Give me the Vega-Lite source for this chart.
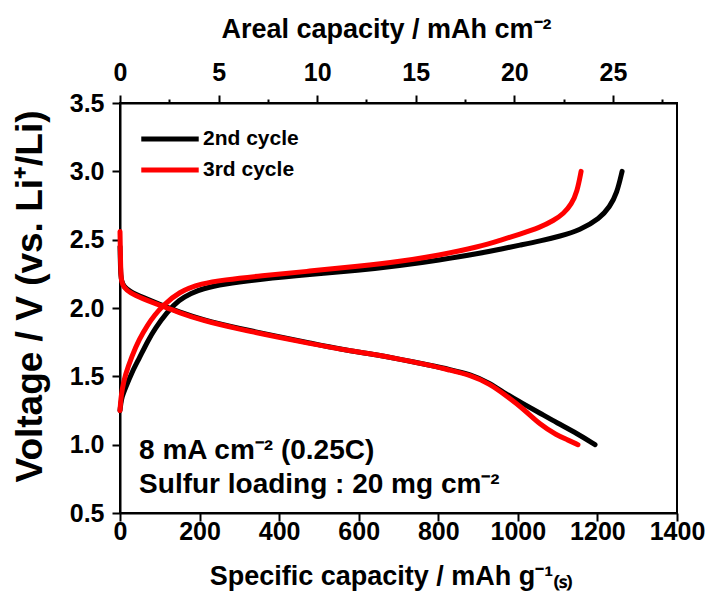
{
  "$schema": "https://vega.github.io/schema/vega-lite/v6.json",
  "width": 557,
  "height": 410,
  "autosize": {"type": "none"},
  "padding": {"left": 120, "top": 103, "right": 36, "bottom": 90},
  "config": {
    "font": "Liberation Sans",
    "view": {"stroke": "black", "strokeWidth": 2},
    "axis": {
      "domainColor": "black", "domainWidth": 2,
      "tickColor": "black", "tickWidth": 2,
      "labelFont": "Liberation Sans", "labelFontWeight": "bold", "labelFontSize": 25, "labelColor": "black",
      "titleFont": "Liberation Sans", "titleFontWeight": "bold", "titleFontSize": 27, "titleColor": "black",
      "grid": false, "labelPadding": 3, "labelOverlap": false, "labelBound": false, "labelFlush": false
    }
  },
  "layer": [
    {
      "layer": [
        {
          "data": {"values": [
            {"cycle": "2nd cycle", "seg": "2c", "cap": 0, "v": 1.25},
            {"cycle": "2nd cycle", "seg": "2c", "cap": 2, "v": 1.30},
            {"cycle": "2nd cycle", "seg": "2c", "cap": 5, "v": 1.35},
            {"cycle": "2nd cycle", "seg": "2c", "cap": 13, "v": 1.41},
            {"cycle": "2nd cycle", "seg": "2c", "cap": 30, "v": 1.53},
            {"cycle": "2nd cycle", "seg": "2c", "cap": 48, "v": 1.63},
            {"cycle": "2nd cycle", "seg": "2c", "cap": 70, "v": 1.76},
            {"cycle": "2nd cycle", "seg": "2c", "cap": 88, "v": 1.85},
            {"cycle": "2nd cycle", "seg": "2c", "cap": 118, "v": 1.97},
            {"cycle": "2nd cycle", "seg": "2c", "cap": 148, "v": 2.06},
            {"cycle": "2nd cycle", "seg": "2c", "cap": 180, "v": 2.11},
            {"cycle": "2nd cycle", "seg": "2c", "cap": 206, "v": 2.14},
            {"cycle": "2nd cycle", "seg": "2c", "cap": 260, "v": 2.175},
            {"cycle": "2nd cycle", "seg": "2c", "cap": 352, "v": 2.21},
            {"cycle": "2nd cycle", "seg": "2c", "cap": 477, "v": 2.245},
            {"cycle": "2nd cycle", "seg": "2c", "cap": 600, "v": 2.275},
            {"cycle": "2nd cycle", "seg": "2c", "cap": 704, "v": 2.31},
            {"cycle": "2nd cycle", "seg": "2c", "cap": 800, "v": 2.35},
            {"cycle": "2nd cycle", "seg": "2c", "cap": 905, "v": 2.40},
            {"cycle": "2nd cycle", "seg": "2c", "cap": 955, "v": 2.43},
            {"cycle": "2nd cycle", "seg": "2c", "cap": 1005, "v": 2.46},
            {"cycle": "2nd cycle", "seg": "2c", "cap": 1056, "v": 2.49},
            {"cycle": "2nd cycle", "seg": "2c", "cap": 1106, "v": 2.525},
            {"cycle": "2nd cycle", "seg": "2c", "cap": 1156, "v": 2.57},
            {"cycle": "2nd cycle", "seg": "2c", "cap": 1206, "v": 2.655},
            {"cycle": "2nd cycle", "seg": "2c", "cap": 1231, "v": 2.74},
            {"cycle": "2nd cycle", "seg": "2c", "cap": 1249, "v": 2.84},
            {"cycle": "2nd cycle", "seg": "2c", "cap": 1262, "v": 3.0},
            {"cycle": "2nd cycle", "seg": "2d", "cap": 0, "v": 2.45},
            {"cycle": "2nd cycle", "seg": "2d", "cap": 1, "v": 2.32},
            {"cycle": "2nd cycle", "seg": "2d", "cap": 2, "v": 2.24},
            {"cycle": "2nd cycle", "seg": "2d", "cap": 4, "v": 2.195},
            {"cycle": "2nd cycle", "seg": "2d", "cap": 10, "v": 2.155},
            {"cycle": "2nd cycle", "seg": "2d", "cap": 25, "v": 2.12},
            {"cycle": "2nd cycle", "seg": "2d", "cap": 55, "v": 2.08},
            {"cycle": "2nd cycle", "seg": "2d", "cap": 101, "v": 2.025},
            {"cycle": "2nd cycle", "seg": "2d", "cap": 150, "v": 1.97},
            {"cycle": "2nd cycle", "seg": "2d", "cap": 206, "v": 1.915},
            {"cycle": "2nd cycle", "seg": "2d", "cap": 300, "v": 1.85},
            {"cycle": "2nd cycle", "seg": "2d", "cap": 400, "v": 1.79},
            {"cycle": "2nd cycle", "seg": "2d", "cap": 477, "v": 1.745},
            {"cycle": "2nd cycle", "seg": "2d", "cap": 550, "v": 1.70},
            {"cycle": "2nd cycle", "seg": "2d", "cap": 650, "v": 1.655},
            {"cycle": "2nd cycle", "seg": "2d", "cap": 704, "v": 1.625},
            {"cycle": "2nd cycle", "seg": "2d", "cap": 780, "v": 1.58},
            {"cycle": "2nd cycle", "seg": "2d", "cap": 829, "v": 1.55},
            {"cycle": "2nd cycle", "seg": "2d", "cap": 880, "v": 1.515},
            {"cycle": "2nd cycle", "seg": "2d", "cap": 930, "v": 1.45},
            {"cycle": "2nd cycle", "seg": "2d", "cap": 970, "v": 1.37},
            {"cycle": "2nd cycle", "seg": "2d", "cap": 1013, "v": 1.30},
            {"cycle": "2nd cycle", "seg": "2d", "cap": 1056, "v": 1.23},
            {"cycle": "2nd cycle", "seg": "2d", "cap": 1098, "v": 1.16},
            {"cycle": "2nd cycle", "seg": "2d", "cap": 1150, "v": 1.08},
            {"cycle": "2nd cycle", "seg": "2d", "cap": 1194, "v": 1.0},
            {"cycle": "3rd cycle", "seg": "3c", "cap": 0, "v": 1.25},
            {"cycle": "3rd cycle", "seg": "3c", "cap": 2, "v": 1.33},
            {"cycle": "3rd cycle", "seg": "3c", "cap": 5, "v": 1.40},
            {"cycle": "3rd cycle", "seg": "3c", "cap": 13, "v": 1.51},
            {"cycle": "3rd cycle", "seg": "3c", "cap": 30, "v": 1.65},
            {"cycle": "3rd cycle", "seg": "3c", "cap": 48, "v": 1.77},
            {"cycle": "3rd cycle", "seg": "3c", "cap": 70, "v": 1.88},
            {"cycle": "3rd cycle", "seg": "3c", "cap": 88, "v": 1.95},
            {"cycle": "3rd cycle", "seg": "3c", "cap": 105, "v": 2.01},
            {"cycle": "3rd cycle", "seg": "3c", "cap": 148, "v": 2.12},
            {"cycle": "3rd cycle", "seg": "3c", "cap": 206, "v": 2.18},
            {"cycle": "3rd cycle", "seg": "3c", "cap": 260, "v": 2.205},
            {"cycle": "3rd cycle", "seg": "3c", "cap": 352, "v": 2.235},
            {"cycle": "3rd cycle", "seg": "3c", "cap": 477, "v": 2.27},
            {"cycle": "3rd cycle", "seg": "3c", "cap": 600, "v": 2.305},
            {"cycle": "3rd cycle", "seg": "3c", "cap": 704, "v": 2.34},
            {"cycle": "3rd cycle", "seg": "3c", "cap": 800, "v": 2.385},
            {"cycle": "3rd cycle", "seg": "3c", "cap": 905, "v": 2.45},
            {"cycle": "3rd cycle", "seg": "3c", "cap": 955, "v": 2.495},
            {"cycle": "3rd cycle", "seg": "3c", "cap": 1005, "v": 2.54},
            {"cycle": "3rd cycle", "seg": "3c", "cap": 1056, "v": 2.59},
            {"cycle": "3rd cycle", "seg": "3c", "cap": 1090, "v": 2.64},
            {"cycle": "3rd cycle", "seg": "3c", "cap": 1115, "v": 2.69},
            {"cycle": "3rd cycle", "seg": "3c", "cap": 1135, "v": 2.76},
            {"cycle": "3rd cycle", "seg": "3c", "cap": 1149, "v": 2.85},
            {"cycle": "3rd cycle", "seg": "3c", "cap": 1159, "v": 3.0},
            {"cycle": "3rd cycle", "seg": "3d", "cap": 0, "v": 2.56},
            {"cycle": "3rd cycle", "seg": "3d", "cap": 1, "v": 2.40},
            {"cycle": "3rd cycle", "seg": "3d", "cap": 2, "v": 2.25},
            {"cycle": "3rd cycle", "seg": "3d", "cap": 4, "v": 2.19},
            {"cycle": "3rd cycle", "seg": "3d", "cap": 10, "v": 2.15},
            {"cycle": "3rd cycle", "seg": "3d", "cap": 25, "v": 2.11},
            {"cycle": "3rd cycle", "seg": "3d", "cap": 55, "v": 2.07},
            {"cycle": "3rd cycle", "seg": "3d", "cap": 101, "v": 2.02},
            {"cycle": "3rd cycle", "seg": "3d", "cap": 150, "v": 1.965},
            {"cycle": "3rd cycle", "seg": "3d", "cap": 206, "v": 1.91},
            {"cycle": "3rd cycle", "seg": "3d", "cap": 300, "v": 1.845},
            {"cycle": "3rd cycle", "seg": "3d", "cap": 400, "v": 1.785},
            {"cycle": "3rd cycle", "seg": "3d", "cap": 477, "v": 1.74},
            {"cycle": "3rd cycle", "seg": "3d", "cap": 550, "v": 1.70},
            {"cycle": "3rd cycle", "seg": "3d", "cap": 650, "v": 1.655},
            {"cycle": "3rd cycle", "seg": "3d", "cap": 704, "v": 1.625},
            {"cycle": "3rd cycle", "seg": "3d", "cap": 780, "v": 1.58},
            {"cycle": "3rd cycle", "seg": "3d", "cap": 829, "v": 1.545},
            {"cycle": "3rd cycle", "seg": "3d", "cap": 880, "v": 1.51},
            {"cycle": "3rd cycle", "seg": "3d", "cap": 930, "v": 1.445},
            {"cycle": "3rd cycle", "seg": "3d", "cap": 970, "v": 1.36},
            {"cycle": "3rd cycle", "seg": "3d", "cap": 1013, "v": 1.265},
            {"cycle": "3rd cycle", "seg": "3d", "cap": 1056, "v": 1.145},
            {"cycle": "3rd cycle", "seg": "3d", "cap": 1098, "v": 1.07},
            {"cycle": "3rd cycle", "seg": "3d", "cap": 1125, "v": 1.035},
            {"cycle": "3rd cycle", "seg": "3d", "cap": 1151, "v": 1.0}
          ]},
          "mark": {"type": "line", "strokeWidth": 5, "strokeCap": "round", "strokeJoin": "round", "interpolate": "basis"},
          "encoding": {
            "x": {
              "field": "cap", "type": "quantitative",
              "scale": {"domain": [0, 1400], "nice": false, "zero": false},
              "axis": {
                "orient": "bottom",
                "title": "Specific capacity / mAh g⁻¹₍ₛ₎",
                "values": [0, 100, 200, 300, 400, 500, 600, 700, 800, 900, 1000, 1100, 1200, 1300, 1400],
                "format": "d",
                "labelExpr": "datum.value % 200 == 0 ? datum.label : ''",
                "tickSize": {"condition": {"test": "datum.value % 200 == 0", "value": 8}, "value": 4},
                "labelPadding": -2,
                "titlePadding": 19,
                "titleX": 271
              }
            },
            "y": {
              "field": "v", "type": "quantitative",
              "scale": {"domain": [0.5, 3.5], "nice": false, "zero": false},
              "axis": {
                "title": "Voltage / V (vs. Li⁺/Li)",
                "titleFontSize": 37,
                "titleY": 193,
                "values": [0.5, 0.75, 1.0, 1.25, 1.5, 1.75, 2.0, 2.25, 2.5, 2.75, 3.0, 3.25, 3.5],
                "format": ".1f",
                "labelExpr": "round(datum.value * 4) % 2 == 0 ? datum.label : ''",
                "tickSize": {"condition": {"test": "round(datum.value * 4) % 2 == 0", "value": 8}, "value": 4},
                "labelPadding": 8,
                "titlePadding": 20
              }
            },
            "color": {
              "field": "cycle", "type": "nominal",
              "scale": {"domain": ["2nd cycle", "3rd cycle"], "range": ["black", "red"]},
              "legend": {
                "orient": "none", "legendX": 33, "legendY": 19, "title": null,
                "symbolType": "M-2,0H2", "symbolSize": 825, "symbolStrokeWidth": 5,
                "symbolFillColor": "transparent",
                "labelFont": "Liberation Sans", "labelFontSize": 21, "labelFontWeight": "bold", "labelColor": "black",
                "labelOffset": 16, "rowPadding": 4, "padding": 0
              }
            },
            "detail": {"field": "seg", "type": "nominal"}
          }
        },
        {
          "data": {"values": [
            {"cap": 48, "v": 0.895, "label": "8 mA cm⁻² (0.25C)"},
            {"cap": 48, "v": 0.648, "label": "Sulfur loading : 20 mg cm⁻²"}
          ]},
          "mark": {"type": "text", "align": "left", "baseline": "alphabetic", "font": "Liberation Sans", "fontSize": 28, "fontWeight": "bold", "color": "black"},
          "encoding": {
            "x": {"field": "cap", "type": "quantitative"},
            "y": {"field": "v", "type": "quantitative"},
            "text": {"field": "label", "type": "nominal"}
          }
        }
      ]
    },
    {
      "data": {"values": [{"areal": 0}, {"areal": 28.25}]},
      "mark": {"type": "point", "opacity": 0},
      "encoding": {
        "x": {
          "field": "areal", "type": "quantitative",
          "scale": {"domain": [0, 28.25], "nice": false, "zero": false},
          "axis": {
            "orient": "top",
            "title": "Areal capacity / mAh cm⁻²",
            "titleX": 266,
            "values": [0, 2.5, 5, 7.5, 10, 12.5, 15, 17.5, 20, 22.5, 25, 27.5],
            "labelExpr": "datum.value % 5 == 0 ? datum.label : ''",
            "tickSize": {"condition": {"test": "datum.value % 5 == 0", "value": 8}, "value": 4},
            "labelPadding": 10,
            "titlePadding": 17
          }
        }
      }
    }
  ],
  "resolve": {"scale": {"x": "independent"}, "axis": {"x": "independent"}}
}
